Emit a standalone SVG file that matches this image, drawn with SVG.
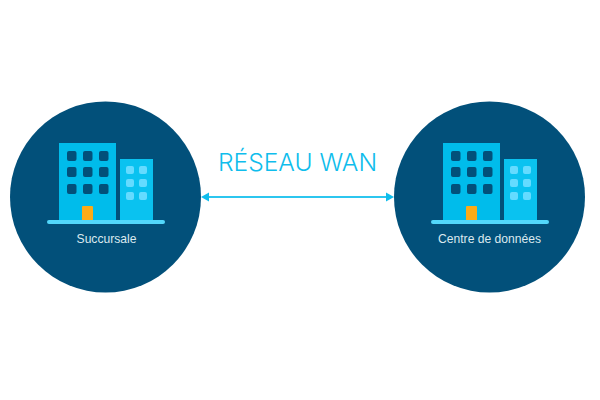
<svg xmlns="http://www.w3.org/2000/svg" width="600" height="400" viewBox="0 0 600 400">
<style>
.disc{fill:#02507a}
.big{fill:#00bceb}
.small{fill:#0ac2f0}
.base{fill:#52d7fb}
.door{fill:#fbab18}
.dw{fill:#02507a}
.lw{fill:#64dbff}
.lbl{font-family:"Liberation Sans",Arial,sans-serif;font-size:12.100px;fill:#dce9ef;text-anchor:middle}
.title{font-family:Inter,"Liberation Sans",sans-serif;font-size:24.600px;fill:#0fbdec;text-anchor:middle;font-weight:300}
</style>
<defs>
<g id="bld">
<rect class="big" x="59" y="143" width="57" height="78"/>
<rect class="small" x="120" y="159" width="33" height="62"/>
<g class="dw">
<rect x="67" y="151" width="9.500" height="10" rx="2"/><rect x="83" y="151" width="9.500" height="10" rx="2"/><rect x="99" y="151" width="9.500" height="10" rx="2"/>
<rect x="67" y="167" width="9.500" height="10" rx="2"/><rect x="83" y="167" width="9.500" height="10" rx="2"/><rect x="99" y="167" width="9.500" height="10" rx="2"/>
<rect x="67" y="184" width="9.500" height="10" rx="2"/><rect x="83" y="184" width="9.500" height="10" rx="2"/><rect x="99" y="184" width="9.500" height="10" rx="2"/>
</g>
<g class="lw">
<rect x="126" y="166" width="8" height="8" rx="2"/><rect x="139" y="166" width="8" height="8" rx="2"/>
<rect x="126" y="179" width="8" height="8" rx="2"/><rect x="139" y="179" width="8" height="8" rx="2"/>
<rect x="126" y="192" width="8" height="8" rx="2"/><rect x="139" y="192" width="8" height="8" rx="2"/>
</g>
<rect class="door" x="82" y="206" width="11" height="15" rx="1"/>
<rect class="base" x="47" y="220" width="118" height="4" rx="2"/>
</g>
</defs>
<g id="connectors">
<path d="M208 197H387" stroke="#2cc6ef" stroke-width="2" fill="none"/>
<path d="M201 197L209 192.500V201.500Z" fill="#0fbdec"/>
<path d="M394 197L386 192.500V201.500Z" fill="#0fbdec"/>
</g>
<g id="node-succursale">
<circle class="disc" cx="105.500" cy="197" r="95.500"/>
<use href="#bld"/>
<text class="lbl" x="106.500" y="243">Succursale</text>
</g>
<g id="node-centre">
<circle class="disc" cx="489.500" cy="197" r="95.500"/>
<use href="#bld" x="384"/>
<text class="lbl" x="489.500" y="243">Centre de données</text>
</g>
<g id="title">
<text class="title" x="297.500" y="170.500">RÉSEAU WAN</text>
</g>
</svg>
